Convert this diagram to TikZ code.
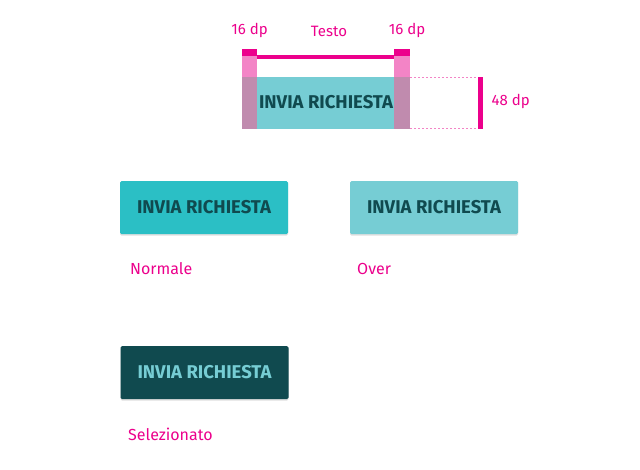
\documentclass[tikz,border=0pt]{standalone}
\usepackage{fontspec}
\setmainfont{Fira Sans}
\usetikzlibrary{shadows}
\definecolor{accent}{HTML}{EC008C}
\definecolor{accentlight}{HTML}{F384C6}
\definecolor{accentmix}{HTML}{C08BAE}
\definecolor{tealbase}{HTML}{2BBFC5}
\definecolor{teallight}{HTML}{76CDD4}
\definecolor{tealdark}{HTML}{104A4F}
\tikzset{
  btnfont/.style={font=\fontsize{18.5}{18.5}\selectfont\bfseries},
  btn/.style={btnfont, rounded corners=1.5pt, minimum width=168pt, minimum height=53pt,
    inner sep=0pt,
    drop shadow={shadow xshift=0pt, shadow yshift=-1.5pt, opacity=0.25}},
  caption/.style={anchor=west, text=accent, font=\fontsize{16}{16}\selectfont, inner sep=0pt},
  dimlabel/.style={text=accent, font=\fontsize{15}{15}\selectfont, inner sep=0pt},
  guide/.style={accentlight, line width=1pt, dash pattern=on 2pt off 2pt}
}
\begin{document}
\begin{tikzpicture}[x=1pt,y=-1pt]
\useasboundingbox[fill=white] (0,0) rectangle (640,469);

% specimen button with padding overlay
\fill[teallight] (242,77) rectangle (410,129);
\fill[accentlight] (242,55.5) rectangle (257.3,77);
\fill[accentlight] (394.3,55.5) rectangle (410,77);
\fill[accentmix] (242,77) rectangle (257.3,129);
\fill[accentmix] (394.3,77) rectangle (410,129);
\fill[accent] (242,48.5) rectangle (257.3,55.5);
\fill[accent] (394.3,48.5) rectangle (410,55.5);
\fill[accent] (257.3,54.5) rectangle (394.3,59.3);
\node[btnfont, text=tealdark] (spec) at (326,102) {INVIA RICHIESTA};

% height guides
\coordinate (gt) at (410,77.5);
\coordinate (gb) at (410,128);
\coordinate (gte) at (478,77.5);
\coordinate (gbe) at (478,128);
\draw[guide] (gt) -- (gte);
\draw[guide] (gb) -- (gbe);
\fill[accent] (477.7,77) rectangle (483.3,128.5);

\node[dimlabel] (padl) at (249.5,30) {16 dp};
\node[dimlabel] (txt) at (329,31) {Testo};
\node[dimlabel] (padr) at (407,30) {16 dp};
\node[dimlabel, anchor=west] (hgt) at (491.5,101) {48 dp};

% button states
\node[btn, fill=tealbase, text=tealdark] (normal) at (204,207.5) {INVIA RICHIESTA};
\node[btn, fill=teallight, text=tealdark] (over) at (434,207.5) {INVIA RICHIESTA};
\node[btn, fill=tealdark, text=teallight] (sel) at (204.5,372.5) {INVIA RICHIESTA};

\node[caption] (cnormal) at (130,269) {Normale};
\node[caption] (cover) at (357,269) {Over};
\node[caption] (csel) at (128,434) {Selezionato};
\end{tikzpicture}
\end{document}
